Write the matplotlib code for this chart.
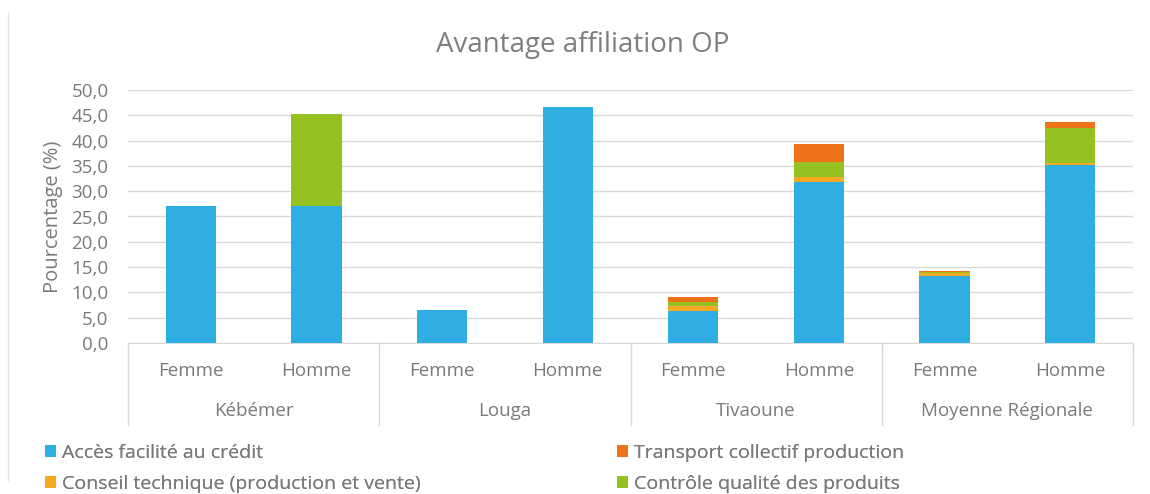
import matplotlib
matplotlib.use("Agg")
import matplotlib.pyplot as plt
import matplotlib.transforms as mtransforms
from matplotlib.patches import Patch
from matplotlib.lines import Line2D
import numpy as np

plt.rcParams['font.family'] = ['Open Sans', 'DejaVu Sans']

groups = ["Kébémer", "Louga", "Tivaoune", "Moyenne Régionale"]
sexes = ["Femme", "Homme"]
x_labels = ["Femme", "Homme"] * 4

acces_credit = [27.1, 27.1, 6.5, 46.6, 6.3, 31.9, 13.3, 35.1]
conseil_technique = [0.0, 0.0, 0.0, 0.0, 1.0, 1.0, 0.6, 0.5]
controle_qualite = [0.0, 18.2, 0.0, 0.0, 0.8, 2.9, 0.2, 6.8]
transport_collectif = [0.0, 0.0, 0.0, 0.0, 1.0, 3.5, 0.2, 1.3]

series = [
    ("Accès facilité au crédit", acces_credit, "#2FAEE4"),
    ("Conseil technique (production et vente)", conseil_technique, "#F6A925"),
    ("Contrôle qualité des produits", controle_qualite, "#95C123"),
    ("Transport collectif production", transport_collectif, "#EE7218"),
]

text_color = "#7a7a7a"
grid_color = "#d9d9d9"

fig = plt.figure(figsize=(11.5, 4.94), dpi=100)
ax = fig.add_axes([128 / 1150, 1 - 343 / 494, (1133 - 128) / 1150, (343 - 90) / 494])

x = np.arange(len(x_labels))
bottom = np.zeros(len(x))
for name, vals, col in series:
    v = np.array(vals)
    ax.bar(x, v, bottom=bottom, width=0.4, color=col, label=name, zorder=3)
    bottom += v

ax.set_xlim(-0.5, len(x) - 0.5)
ax.set_ylim(0, 50)
ax.set_yticks(np.arange(0, 50.1, 5))
ax.set_yticklabels([f"{t:.1f}".replace(".", ",") for t in np.arange(0, 50.1, 5)])
ax.yaxis.grid(True, color=grid_color, lw=1, zorder=0)
ax.set_axisbelow(True)
for s in ["top", "right", "left"]:
    ax.spines[s].set_visible(False)
ax.spines["bottom"].set_color(grid_color)
ax.tick_params(axis="y", length=0, labelsize=13.5, labelcolor=text_color, pad=14)
ax.set_xticks(x)
ax.set_xticklabels(x_labels)
ax.tick_params(axis="x", length=0, labelsize=13.5, labelcolor=text_color, pad=14)
ax.set_ylabel("Pourcentage (%)", fontsize=14.5, color=text_color, labelpad=6)

trans = mtransforms.blended_transform_factory(ax.transData, ax.transAxes)
sep_bottom = -(425 - 343) / (343 - 90)
for b in np.arange(-0.5, len(x), 2):
    ax.plot([b, b], [0, sep_bottom], transform=trans, color=grid_color, lw=1, clip_on=False)
for i, g in enumerate(groups):
    ax.text(2 * i + 0.5, -(411 - 343) / (343 - 90), g, transform=trans, ha="center", va="center",
            fontsize=13.5, color=text_color)

fig.text(583 / 1150, 1 - 45 / 494, "Avantage affiliation OP", ha="center", va="center",
         fontsize=20, color="#7f7f7f")

handles = {name: Patch(facecolor=col) for name, _, col in series}
leg1_names = ["Accès facilité au crédit", "Conseil technique (production et vente)"]
leg2_names = ["Transport collectif production", "Contrôle qualité des produits"]
for names, xpos in [(leg1_names, 45 / 1150), (leg2_names, 617 / 1150)]:
    leg = fig.legend([handles[n] for n in names], names, loc="upper left",
                     bbox_to_anchor=(xpos, 1 - 444 / 494), frameon=False, fontsize=14,
                     handlelength=0.55, handleheight=0.55, handletextpad=0.3,
                     labelspacing=0.68, borderpad=0, borderaxespad=0)
    for t in leg.get_texts():
        t.set_color(text_color)
    fig.add_artist(leg)

fig.add_artist(Line2D([8 / 1150, 8 / 1150], [1 - 12 / 494, 1 - 480 / 494],
                      transform=fig.transFigure, color="#e3e3e3", lw=1))

fig.savefig("out.png", dpi=100)
